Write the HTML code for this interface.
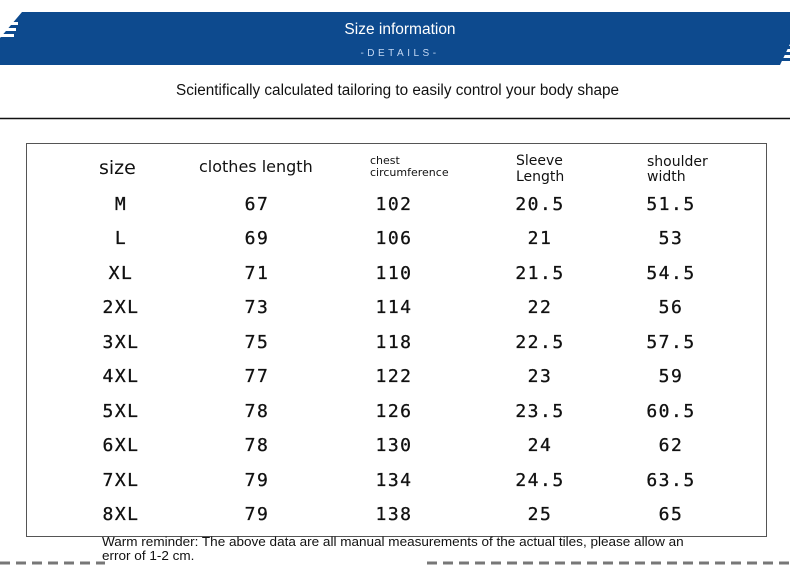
<!DOCTYPE html>
<html><head><meta charset="utf-8"><style>
body{margin:0;width:790px;height:566px;background:#fff;position:relative;overflow:hidden;font-family:"DejaVu Sans","Liberation Sans",sans-serif;color:#111}
.a{position:absolute;white-space:nowrap}
.n{position:absolute;font-family:"DejaVu Sans Mono","Liberation Mono",monospace;font-size:18px;letter-spacing:1.5px;transform:translate(-50%,-50%);line-height:1;-webkit-text-stroke:0.3px #111}
</style></head><body>
<svg class="a" style="left:0;top:0" width="790" height="566">
<polygon points="22,12 790,12 790,44 780,65 0,65 0,38" fill="#0d4a8e"/>
<rect x="0" y="22" width="18" height="3" fill="#fff"/><rect x="0" y="28" width="16" height="3" fill="#fff"/><rect x="0" y="34" width="14" height="3" fill="#fff"/>
<rect x="772" y="46" width="18" height="3" fill="#0d4a8e"/><rect x="772" y="52" width="18" height="3" fill="#0d4a8e"/><rect x="770" y="58" width="20" height="3" fill="#0d4a8e"/>
<line x1="0" y1="118.5" x2="790" y2="118.5" stroke="#111" stroke-width="1.5"/>
<rect x="26.5" y="143.5" width="740" height="393" fill="none" stroke="#555" stroke-width="1"/>
<line x1="0" y1="563" x2="105" y2="563" stroke="#777" stroke-width="3" stroke-dasharray="10,6"/>
<line x1="427" y1="563" x2="790" y2="563" stroke="#777" stroke-width="3" stroke-dasharray="10,6"/>
</svg>
<div class="a" style="left:0;width:800px;top:21px;text-align:center;color:#fff;font-size:15.5px;font-family:'Liberation Sans',sans-serif">Size information</div>
<div class="a" style="left:0;width:800px;top:48px;text-align:center;color:#c4d8f4;font-size:10px;letter-spacing:3.5px;font-family:'Liberation Sans',sans-serif">-DETAILS-</div>
<div class="a" style="left:176px;top:82px;font-size:15.3px;font-family:'Liberation Sans',sans-serif">Scientifically calculated tailoring to easily control your body shape</div>
<div class="a" style="left:99px;top:157px;font-size:19px">size</div>
<div class="a" style="left:199px;top:157px;font-size:16px">clothes length</div>
<div class="a" style="left:370px;top:155px;font-size:11px;line-height:12px">chest<br>circumference</div>
<div class="a" style="left:516px;top:154px;font-size:14px;line-height:15.5px">Sleeve<br>Length</div>
<div class="a" style="left:647px;top:155px;font-size:14px;line-height:15px">shoulder<br>width</div>
<div class="a" style="left:102px;top:535px;font-size:13px;line-height:13.5px;font-family:'Liberation Sans',sans-serif;transform:scaleX(1.04);transform-origin:left">Warm reminder: The above data are all manual measurements of the actual tiles, please allow an<br>error of 1-2 cm.</div>
<div id="t"></div>
<script>
var d=[["M",67,102,"20.5","51.5"],["L",69,106,"21","53"],["XL",71,110,"21.5","54.5"],["2XL",73,114,"22","56"],["3XL",75,118,"22.5","57.5"],["4XL",77,122,"23","59"],["5XL",78,126,"23.5","60.5"],["6XL",78,130,"24","62"],["7XL",79,134,"24.5","63.5"],["8XL",79,138,"25","65"]];
var xs=[121,257,394,540,671],h="";
d.forEach(function(r,i){var y=204.5+i*34.5;r.forEach(function(v,j){h+='<div class="n" style="left:'+xs[j]+'px;top:'+y+'px">'+v+'</div>';});});
document.getElementById("t").innerHTML=h;
</script>
</body></html>
